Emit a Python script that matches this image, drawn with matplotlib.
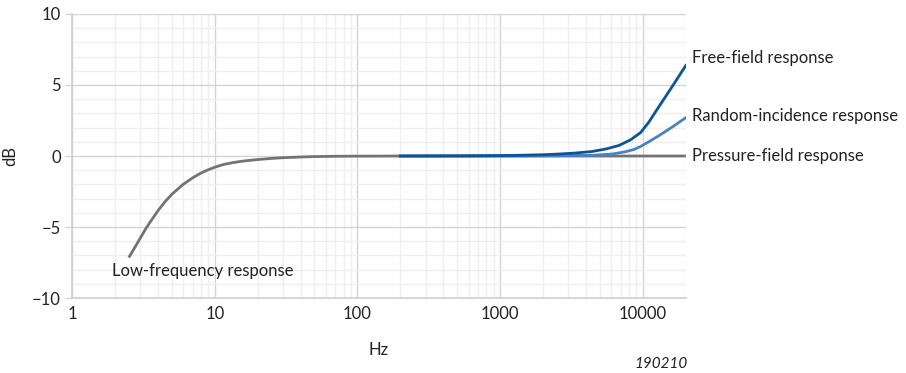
import matplotlib.pyplot as plt
from matplotlib.ticker import FixedLocator, NullFormatter

plt.rcParams['font.family'] = ['Lato', 'DejaVu Sans']

# Low-frequency / pressure-field response (grey)
low_hz = [2.5, 2.75, 3, 3.25, 3.5, 4, 4.5, 5, 6, 7, 8, 9, 10, 11.5, 13.3, 16, 20, 25, 30, 40, 50,
          70, 100, 200, 1000, 20000]
low_db = [-7.15, -6.45, -5.8, -5.2, -4.7, -3.85, -3.2, -2.7, -2.0, -1.54, -1.2, -0.97, -0.79,
          -0.6, -0.47, -0.35, -0.25, -0.17, -0.12, -0.07, -0.04, -0.02, -0.01, 0, 0, 0]

# Free-field response (dark blue)
ff_hz = [200, 500, 1000, 1500, 2000, 2590, 3380, 4420, 5480, 6790, 8200, 9640, 11000, 12900,
         16000, 20000]
ff_db = [0, 0.01, 0.03, 0.06, 0.09, 0.14, 0.21, 0.32, 0.49, 0.74, 1.14, 1.65, 2.38, 3.45,
         4.87, 6.38]

# Random-incidence response (lighter blue)
ri_hz = [200, 1000, 2590, 4420, 6100, 7550, 8660, 9640, 11000, 12900, 16000, 20000]
ri_db = [0, 0, 0.02, 0.05, 0.14, 0.3, 0.46, 0.67, 1.0, 1.42, 2.03, 2.7]

fig = plt.figure(figsize=(9.06, 3.73), dpi=100)
ax = fig.add_axes([0.0795, 0.201, 0.6775, 0.7615])

ax.plot(low_hz, low_db, color='#737373', lw=2, solid_capstyle='butt')
ax.plot(ri_hz, ri_db, color='#4a82bd', lw=2)
ax.plot(ff_hz, ff_db, color='#0b5597', lw=2)

ax.set_xscale('log')
ax.set_xlim(1, 20000)
ax.set_ylim(-10, 10)
ax.set_xticks([1, 10, 100, 1000, 10000])
ax.set_xticklabels(['1', '10', '100', '1000', '10000'])
ax.xaxis.set_minor_locator(FixedLocator([m * 10 ** d for d in range(0, 5) for m in range(2, 10)
                                        if m * 10 ** d <= 20000]))
ax.xaxis.set_minor_formatter(NullFormatter())
ax.set_yticks([-10, -5, 0, 5, 10])
ax.set_yticklabels(['\u221210', '\u22125', '0', '5', '10'])
ax.yaxis.set_minor_locator(FixedLocator(range(-10, 11)))

ax.grid(which='major', color='#d4d4d4', lw=1)
ax.grid(which='minor', color='#efefef', lw=1)
ax.set_axisbelow(True)

for s in ['top', 'right']:
    ax.spines[s].set_visible(False)
for s in ['left', 'bottom']:
    ax.spines[s].set_color('#d0d0d0')
    ax.spines[s].set_linewidth(1.2)
ax.tick_params(which='major', length=5, color='#d0d0d0', labelsize=12, labelcolor='#222222', pad=3)
ax.tick_params(which='minor', length=0)
ax.tick_params(axis='x', length=0, pad=6)

ax.set_ylabel('dB', fontsize=12, color='#222222', labelpad=10)
ax.set_xlabel('Hz', fontsize=12, color='#222222', labelpad=14)

tk = dict(fontsize=12, color='#222222', va='center', ha='left')
ax.text(20000 * 1.1, 6.9, 'Free-field response', **tk)
ax.text(20000 * 1.1, 2.85, 'Random-incidence response', **tk)
ax.text(20000 * 1.1, 0, 'Pressure-field response', **tk)
ax.text(1.9, -8.1, 'Low-frequency response', **tk)

fig.text(0.759, 0.005, '190210', fontsize=11, style='italic', color='#222222', ha='right', va='bottom')

fig.savefig('out.png', dpi=100)
